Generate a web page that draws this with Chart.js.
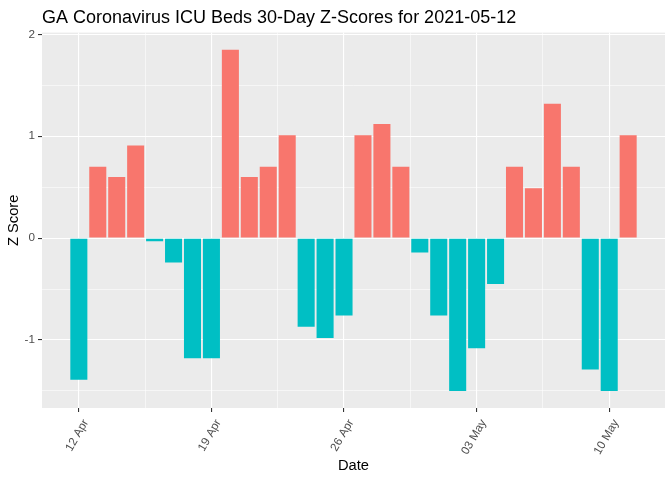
<!DOCTYPE html>
<html>
<head>
<meta charset="utf-8">
<script src="https://cdn.jsdelivr.net/npm/chart.js@4"></script>
<style>
html,body{margin:0;padding:0;background:#fff;}
#wrap{width:672px;height:480px;}
</style>
</head>
<body>
<div id="wrap"><canvas id="c" width="672" height="480"></canvas></div>
<script>
const dates = ['2021-04-12','2021-04-13','2021-04-14','2021-04-15','2021-04-16','2021-04-17','2021-04-18',
  '2021-04-19','2021-04-20','2021-04-21','2021-04-22','2021-04-23','2021-04-24','2021-04-25',
  '2021-04-26','2021-04-27','2021-04-28','2021-04-29','2021-04-30','2021-05-01','2021-05-02',
  '2021-05-03','2021-05-04','2021-05-05','2021-05-06','2021-05-07','2021-05-08','2021-05-09',
  '2021-05-10','2021-05-11'];
const zScores = [-1.39,0.70,0.60,0.91,-0.03,-0.24,-1.18,
  -1.18,1.85,0.60,0.70,1.01,-0.87,-0.98,
  -0.76,1.01,1.12,0.70,-0.14,-0.76,-1.50,
  -1.08,-0.45,0.70,0.49,1.32,0.70,-1.29,
  -1.50,1.01];
const xTickLabels = ['12 Apr','19 Apr','26 Apr','03 May','10 May'];
const xTickDates = ['2021-04-12','2021-04-19','2021-04-26','2021-05-03','2021-05-10'];
const yMajorTicks = [-1,0,1,2];
const yMinorTicks = [-1.5,-0.5,0.5,1.5];

const POS = '#F8766D', NEG = '#00BFC4';
const day0 = Date.parse(dates[0]);
const dayIdx = d => Math.round((Date.parse(d) - day0) / 86400000);
const xMajor = xTickDates.map(dayIdx);
const xMinor = xMajor.map(v => v + 3.5).filter(v => v < dates.length);
const points = dates.map((d, i) => ({x: dayIdx(d), y: zScores[i]}));

// ggplot-like 5% expansion
const xLo = -0.45, xHi = dates.length - 1 + 0.45;
const xPad = (xHi - xLo) * 0.05;
const yLo = Math.min(0, ...zScores), yHi = Math.max(0, ...zScores);
const yPad = (yHi - yLo) * 0.05;

const panelBg = {
  id: 'panelBg',
  beforeDraw(chart) {
    const {ctx, chartArea: a} = chart;
    ctx.save();
    ctx.fillStyle = '#EBEBEB';
    ctx.fillRect(a.left, a.top, a.right - a.left, a.bottom - a.top);
    ctx.restore();
  }
};

const isMajorX = v => xMajor.includes(v);
const isMajorY = v => yMajorTicks.includes(v);

new Chart(document.getElementById('c'), {
  type: 'bar',
  data: {
    datasets: [{
      data: points,
      backgroundColor: zScores.map(v => v >= 0 ? POS : NEG),
      borderWidth: 0,
      barPercentage: 0.9,
      categoryPercentage: 1.0
    }]
  },
  options: {
    responsive: false,
    animation: false,
    devicePixelRatio: 1,
    layout: {padding: {left: 0, right: 7, top: 0, bottom: 0}},
    plugins: {
      legend: {display: false},
      tooltip: {enabled: false},
      title: {
        display: true,
        text: 'GA Coronavirus ICU Beds 30-Day Z-Scores for 2021-05-12',
        align: 'start',
        fullSize: false,
        color: '#000000',
        font: {family: 'Liberation Sans, Arial, sans-serif', size: 18, weight: 'normal'},
        padding: {top: 7, bottom: 4}
      }
    },
    scales: {
      x: {
        type: 'linear',
        min: xLo - xPad,
        max: xHi + xPad,
        offset: false,
        afterBuildTicks(scale) {
          scale.ticks = [...xMajor, ...xMinor].sort((a, b) => a - b).map(v => ({value: v}));
        },
        afterFit(scale) { scale.height = 72; },
        ticks: {
          autoSkip: false,
          minRotation: 60,
          maxRotation: 60,
          padding: 5,
          labelOffset: 7,
          color: '#4D4D4D',
          font: {family: 'Liberation Sans, Arial, sans-serif', size: 11.7},
          callback(v) {
            const i = xMajor.indexOf(v);
            return i >= 0 ? xTickLabels[i] : '';
          }
        },
        grid: {
          offset: false,
          color: '#FFFFFF',
          lineWidth: ctx => (ctx.tick && isMajorX(ctx.tick.value)) ? 1.1 : 0.55,
          tickColor: ctx => (ctx.tick && isMajorX(ctx.tick.value)) ? '#333333' : 'rgba(0,0,0,0)',
          tickWidth: 1.1,
          tickLength: 4,
          drawTicks: true
        },
        border: {display: false},
        title: {
          display: true,
          text: 'Date',
          color: '#000000',
          font: {family: 'Liberation Sans, Arial, sans-serif', size: 14.7},
          padding: {top: 2, bottom: 5}
        }
      },
      y: {
        type: 'linear',
        min: yLo - yPad,
        max: yHi + yPad,
        afterBuildTicks(scale) {
          scale.ticks = [...yMinorTicks, ...yMajorTicks].sort((a, b) => a - b).map(v => ({value: v}));
        },
        afterFit(scale) { scale.width = 42; },
        ticks: {
          padding: 3,
          color: '#4D4D4D',
          font: {family: 'Liberation Sans, Arial, sans-serif', size: 11.7},
          callback(v) { return isMajorY(v) ? String(v) : ''; }
        },
        grid: {
          color: '#FFFFFF',
          lineWidth: ctx => (ctx.tick && isMajorY(ctx.tick.value)) ? 1.1 : 0.55,
          tickColor: ctx => (ctx.tick && isMajorY(ctx.tick.value)) ? '#333333' : 'rgba(0,0,0,0)',
          tickWidth: 1.1,
          tickLength: 4,
          drawTicks: true
        },
        border: {display: false},
        title: {
          display: true,
          text: 'Z Score',
          color: '#000000',
          font: {family: 'Liberation Sans, Arial, sans-serif', size: 14.7},
          padding: {top: 5, bottom: 2}
        }
      }
    }
  },
  plugins: [panelBg]
});
</script>
</body>
</html>
